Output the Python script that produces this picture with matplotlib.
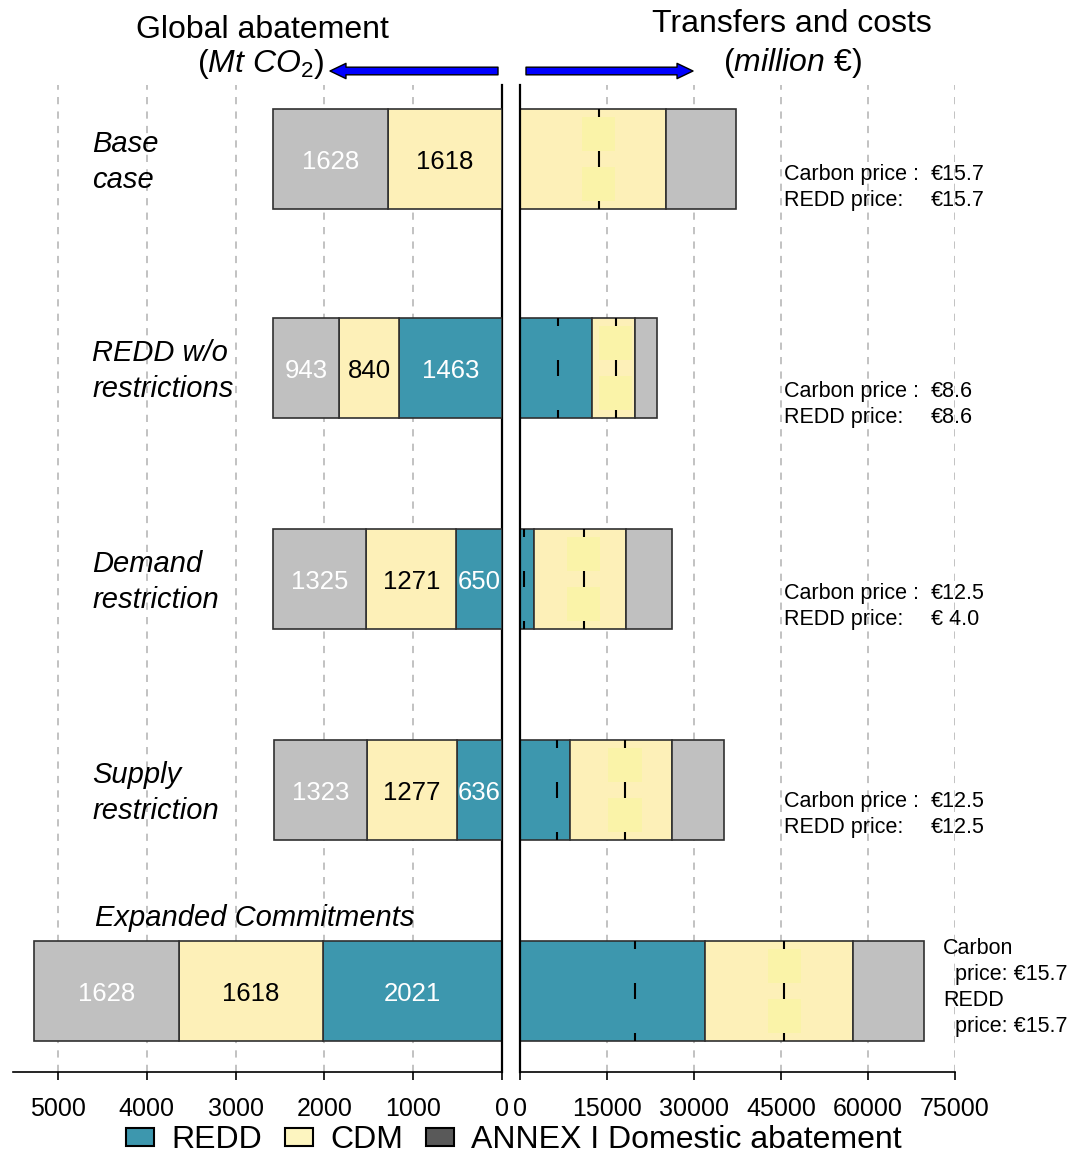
import numpy as np
import matplotlib
matplotlib.use("Agg")
import matplotlib.pyplot as plt
from matplotlib.patches import Patch, Rectangle
from matplotlib.transforms import blended_transform_factory

plt.rcParams['font.family'] = ['Liberation Sans', 'DejaVu Sans']
plt.rcParams['mathtext.fontset'] = 'custom'
plt.rcParams['mathtext.rm'] = 'Liberation Sans'
plt.rcParams['mathtext.it'] = 'Liberation Sans:italic'

scenarios = ["Base\ncase", "REDD w/o\nrestrictions", "Demand\nrestriction",
             "Supply\nrestriction", "Expanded Commitments"]

# global abatement, Mt CO2
abate_redd = [0, 1463, 650, 636, 2021]
abate_cdm = [1618, 840, 1271, 1277, 1618]
abate_annex = [1628, 943, 1325, 1323, 1628]

# transfers and costs, million EUR
cost_redd = [0, 12400, 2400, 8600, 31900]
cost_cdm = [25100, 7400, 15900, 17600, 25500]
cost_annex = [12200, 3900, 7900, 8900, 12200]

# black markers inside the transfer bars
mark_redd = [None, 6550, 700, 6300, 19800]
mark_cdm = [13600, 16500, 11000, 18100, 45600]

carbon_price = ["€15.7", "€8.6", "€12.5", "€12.5", "€15.7"]
redd_price = ["€15.7", "€8.6", "€ 4.0", "€12.5", "€15.7"]

left_ticks = [5000, 4000, 3000, 2000, 1000, 0]
right_ticks = [0, 15000, 30000, 45000, 60000, 75000]

teal = '#3D97AE'
yellow = '#FDF0B8'
box_yellow = '#FAF3A8'
gray = '#C0C0C0'
dark = '#595959'

W, H = 1083, 1154
fig = plt.figure(figsize=(W / 100, H / 100), dpi=100)


def px_box(x0, x1, y0, y1):
    return [x0 / W, 1 - y1 / H, (x1 - x0) / W, (y1 - y0) / H]


axL = fig.add_axes(px_box(13, 502, 85, 1072))
axU = fig.add_axes(px_box(13, 502, 85, 1072))   # top four rows have their own scale
axR = fig.add_axes(px_box(520, 955, 85, 1072))

row_y = [0, 1.005, 2.02, 3.035, 4]
bar_h = 0.48
ylim = (4.389, -0.356)

for ax in (axL, axU, axR):
    ax.set_ylim(*ylim)
    ax.set_yticks([])

axL.set_xlim(5507, 0)
axU.set_xlim(6930, 0)
axR.set_xlim(0, 75000)
axU.axis('off')
axU.patch.set_visible(False)

for ax in (axL, axR):
    ax.grid(axis='x', color='#BDBDBD', linestyle=(0, (4, 4)), linewidth=1.3)
    ax.set_axisbelow(True)
    ax.tick_params(axis='x', direction='out', length=6, width=1.2,
                   labelsize=18, pad=12)
    ax.spines['top'].set_visible(False)
    ax.spines['bottom'].set_linewidth(1.2)

axL.spines['left'].set_visible(False)
axL.spines['right'].set_linewidth(1.6)
axR.spines['right'].set_visible(False)
axR.spines['left'].set_linewidth(1.6)
axL.set_xticks(left_ticks)
axL.set_xticklabels([str(t) for t in left_ticks])
axR.set_xticks(right_ticks)
axR.set_xticklabels([str(t) for t in right_ticks])

# left side: abatement
for i, y in enumerate(row_y):
    ax = axU if i < 4 else axL
    left = 0
    for val, col, tcol in ((abate_redd[i], teal, 'white'),
                           (abate_cdm[i], yellow, 'black'),
                           (abate_annex[i], gray, 'white')):
        if val == 0:
            continue
        ax.barh(y, val, left=left, height=bar_h, color=col,
                edgecolor='#303030', linewidth=1.2, zorder=2)
        ax.text(left + val / 2, y, str(val), ha='center', va='center_baseline',
                fontsize=18.5, color=tcol, zorder=3)
        left += val

# right side: transfers and costs
for i, y in enumerate(row_y):
    left = 0
    segs = []
    for val, col in ((cost_redd[i], teal), (cost_cdm[i], yellow),
                     (cost_annex[i], gray)):
        if val == 0:
            continue
        axR.barh(y, val, left=left, height=bar_h, color=col,
                 edgecolor='#303030', linewidth=1.2, zorder=2)
        segs.append((left, left + val))
        left += val
    # markers, partly hidden behind label boxes
    for mark, face, seg in ((mark_redd[i], teal, 0), (mark_cdm[i], box_yellow, 1)):
        if mark is None:
            continue
        if cost_redd[i] == 0:
            seg -= 1
        s0, s1 = segs[seg]
        axR.vlines(mark, y - bar_h / 2, y + bar_h / 2, color='black',
                   linewidth=1.5, zorder=3)
        bx0 = max(mark - 2850, s0 + 300)
        bx1 = min(mark + 2850, s1 - 300)
        for dy in (-0.202, 0.038):
            axR.add_patch(Rectangle((bx0, y + dy), bx1 - bx0, 0.164,
                                    facecolor=face, edgecolor='none', zorder=4))

# row names
tL = blended_transform_factory(axL.transAxes, axL.transData)
for i in range(4):
    axL.text(0.1616, row_y[i] + 0.014, scenarios[i], transform=tL, ha='left',
             va='center', fontsize=21, style='italic', linespacing=1.38)
axL.text(0.1677, row_y[4] - 0.351, scenarios[4], transform=tL, ha='left',
         va='center', fontsize=21, style='italic')

# prices
tR = blended_transform_factory(axR.transAxes, axR.transData)
price_dy = [0.135, 0.175, 0.13, 0.118]
for i in range(4):
    yy = row_y[i] + price_dy[i]
    axR.text(0.607, yy, "Carbon price :\nREDD price:", transform=tR,
             ha='left', va='center', fontsize=15.5, linespacing=1.32, clip_on=False)
    axR.text(0.945, yy, carbon_price[i] + "\n" + redd_price[i], transform=tR,
             ha='left', va='center', fontsize=15.5, linespacing=1.32, clip_on=False)
axR.text(0.972, row_y[4] - 0.017,
         "Carbon\n  price: " + carbon_price[4] + "\nREDD\n  price: " + redd_price[4],
         transform=tR, ha='left', va='center', fontsize=15.5, linespacing=1.3,
         clip_on=False)

# headers and arrows
fig.text(262 / W, 1 - 30 / H, "Global abatement", ha='center', va='center', fontsize=23)
fig.text(324 / W, 1 - 64 / H, r"($\mathit{Mt\ CO}_{\mathit{2}}$)", ha='right',
         va='center', fontsize=23)
fig.text(792 / W, 1 - 24 / H, "Transfers and costs", ha='center', va='center', fontsize=23)
fig.text(792 / W, 1 - 63 / H, r"($\mathit{million\ €}$)", ha='center',
         va='center', fontsize=23)

arrow_style = "simple,head_length=1.15,head_width=1.1,tail_width=0.55"
for x0, x1 in ((498, 330), (526, 693)):
    axR.annotate('', xy=(x1, H - 71), xytext=(x0, H - 71),
                 xycoords='figure pixels', textcoords='figure pixels',
                 arrowprops=dict(arrowstyle=arrow_style, mutation_scale=10,
                                 fc='#0000FF', ec='black', lw=1,
                                 shrinkA=0, shrinkB=0),
                 annotation_clip=False)

handles = [Patch(facecolor=teal, edgecolor='black', linewidth=1.5),
           Patch(facecolor='#FDF5C0', edgecolor='black', linewidth=1.5),
           Patch(facecolor=dark, edgecolor='black', linewidth=1.5)]
fig.legend(handles, ["REDD", "CDM", "ANNEX I Domestic abatement"],
           loc='center', bbox_to_anchor=(514 / W, 1 - 1140 / H), ncol=3,
           frameon=False, fontsize=23, handlelength=0.88, handleheight=0.5,
           handletextpad=0.55, columnspacing=0.7, borderpad=0, borderaxespad=0)

fig.savefig('out.png', dpi=100)
